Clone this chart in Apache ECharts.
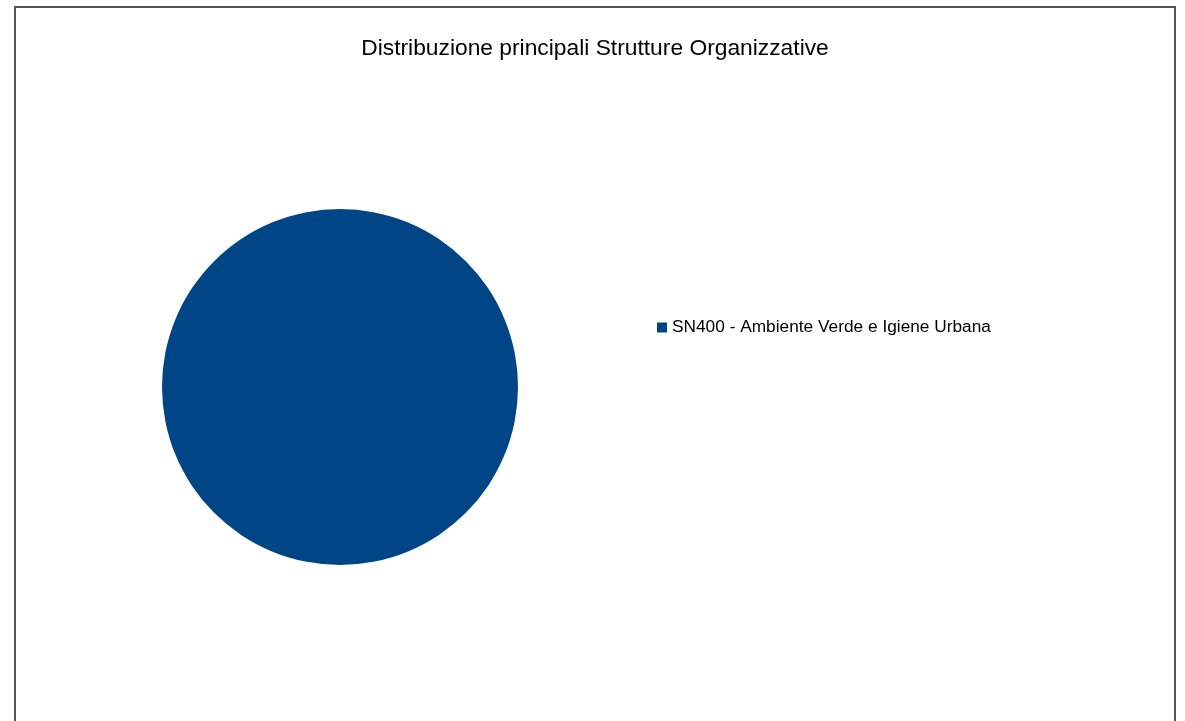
<!DOCTYPE html>
<html>
<head>
<meta charset="utf-8">
<script src="https://cdn.jsdelivr.net/npm/echarts@6/dist/echarts.min.js"></script>
<style>
html,body{margin:0;padding:0;background:#fff;}
#chart{width:1185px;height:721px;}
</style>
</head>
<body>
<div id="chart"></div>
<script>
var titleText = 'Distribuzione principali Strutture Organizzative';
var categories = ['SN400 - Ambiente Verde e Igiene Urbana'];
var values = [1];
var colors = ['#004586'];

var chart = echarts.init(document.getElementById('chart'), null, {renderer: 'canvas'});
chart.setOption({
  backgroundColor: '#ffffff',
  animation: false,
  color: colors,
  title: {
    text: titleText,
    left: 590,
    textAlign: 'center',
    top: 32,
    textStyle: {fontFamily: 'Liberation Sans', fontSize: 22.8, fontWeight: 'normal', color: '#000'}
  },
  legend: {
    orient: 'vertical',
    left: 657,
    top: 319,
    padding: 0,
    icon: 'rect',
    itemWidth: 10,
    itemHeight: 10,
    itemGap: 6,
    textStyle: {fontFamily: 'Liberation Sans', fontSize: 17.3, color: '#000'},
    data: categories
  },
  graphic: [{
    type: 'rect',
    shape: {x: 15, y: 7, width: 1160, height: 740},
    style: {fill: 'none', stroke: '#555', lineWidth: 2},
    silent: true
  }],
  series: [{
    type: 'pie',
    center: [340, 387],
    radius: [0, 178],
    label: {show: false},
    labelLine: {show: false},
    itemStyle: {borderWidth: 0},
    emphasis: {disabled: true},
    data: categories.map(function(c, i){ return {name: c, value: values[i]}; })
  }]
});
</script>
</body>
</html>
